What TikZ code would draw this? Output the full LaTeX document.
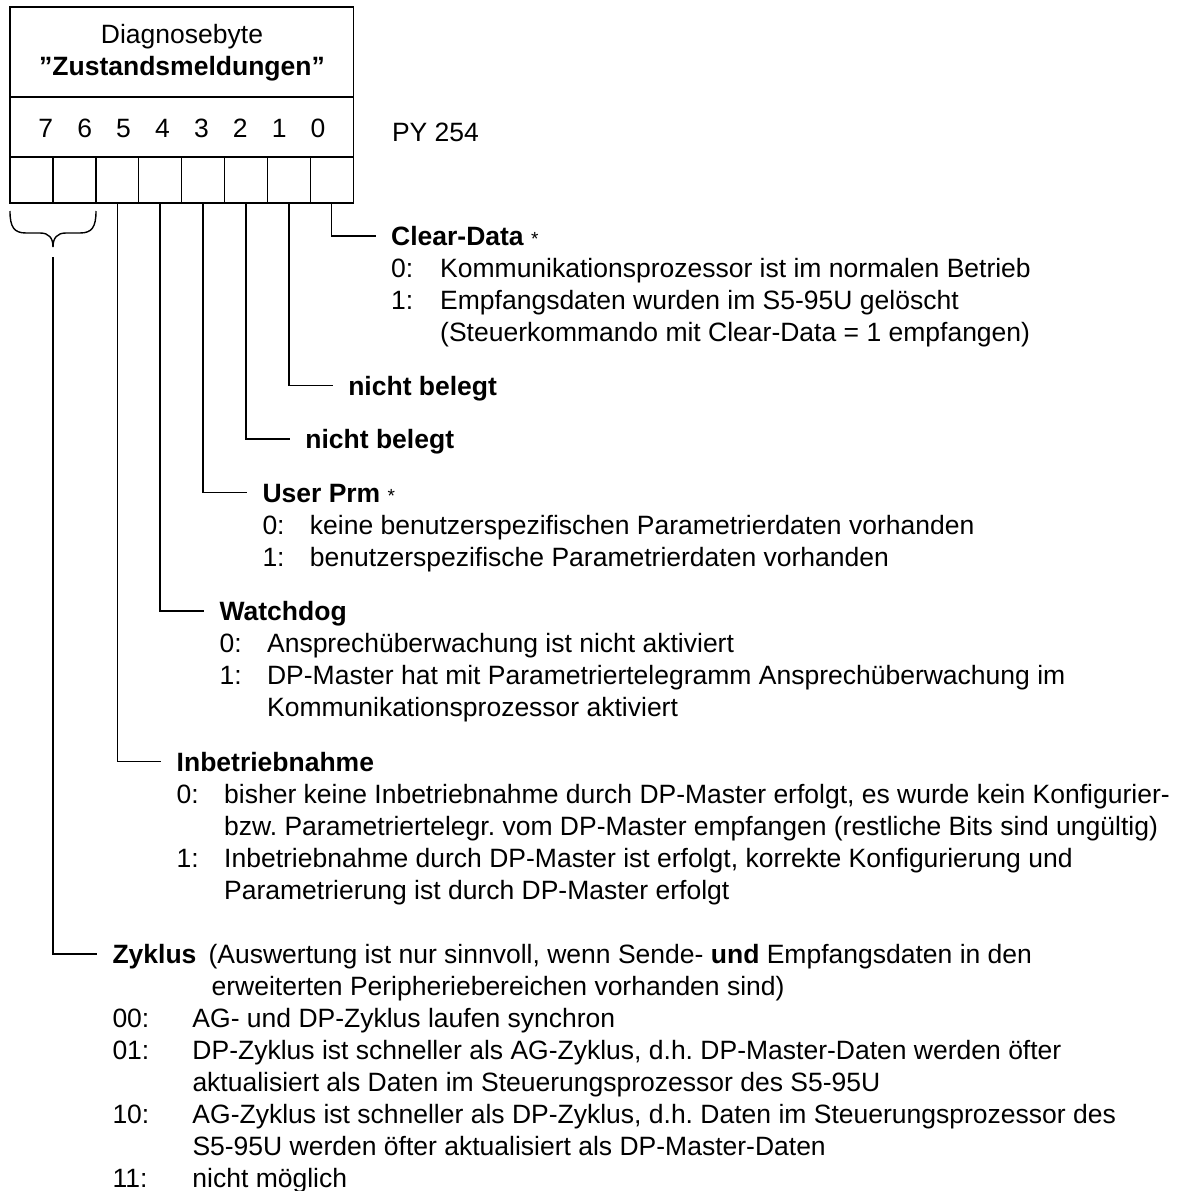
\documentclass[tikz,border=0pt]{standalone}
\usepackage{fontspec}
\setmainfont{Liberation Sans}
\frenchspacing
\newcommand\bodyfont{\fontsize{26.5pt}{32pt}\selectfont}
\newcommand\note{\mdseries\fontsize{19pt}{19pt}\selectfont*}
\begin{document}
\begin{tikzpicture}[x=1pt,y=-1pt,line width=1.4pt,
  txt/.style={inner sep=0pt,outer sep=0pt,anchor=base west,font=\bodyfont},
  head/.style={txt,font=\bodyfont\bfseries,text height=19pt,text depth=0pt},
  digit/.style={inner sep=0pt,anchor=base,font=\bodyfont},
  lead/.style={line width=1.4pt}]
\useasboundingbox (0,0) rectangle (1187,1191);

% ---- register box: title, bit numbers, bit cells
\draw (10,7) rectangle (353.2,203);
\draw (10,97) -- (353.2,97);
\draw (10,157) -- (353.2,157);
\foreach \i in {1,...,7} \draw (10+42.9*\i,157) -- (10+42.9*\i,203);

\node[digit] (title1) at (182,43) {Diagnosebyte};
\node[digit] (title2) at (182,75) {\bfseries ”Zustandsmeldungen”};
\foreach \d in {7,...,0}
  \node[digit] (d\d) at ({45.8+38.9*(7-\d)},137.5) {\d};
\node[txt] (py) at (392,141) {PY 254};

% bottom centres of the bit cells
\foreach \d in {0,...,5}
  \coordinate (b\d) at ({10+42.9*(7-\d)+21.45},203);

% brace over bits 7 and 6
\draw (10,211) .. controls (10,227) and (14,233) .. (26,233) -- (40,233)
      .. controls (49,233) and (53,238) .. (53,247);
\draw (96,211) .. controls (96,227) and (92,233) .. (80,233) -- (66,233)
      .. controls (57,233) and (53,238) .. (53,247);
\coordinate (b76) at (53,257);

% ---- bit 0
\node[head] (cd) at (391.2,245.5) {Clear-Data \note};
\node[txt] (cdtx) at (391.2,277.5) {\begin{tabular}[t]{@{}p{49pt}@{}l@{}}
0: & Kommunikationsprozessor ist im normalen Betrieb\\
1: & Empfangsdaten wurden im S5-95U gelöscht\\
   & (Steuerkommando mit Clear-Data = 1 empfangen)
\end{tabular}};
\draw[lead] (b0) |- ([xshift=-15.5pt]cd.west);

% ---- bits 1 and 2
\node[head] (nb1) at (348.3,395) {nicht belegt};
\draw[lead] (b1) |- ([xshift=-15.5pt]nb1.west);
\node[head] (nb2) at (305.4,448.5) {nicht belegt};
\draw[lead] (b2) |- ([xshift=-15.5pt]nb2.west);

% ---- bit 3
\node[head] (up) at (262.5,502) {User Prm \note};
\node[txt] (uptx) at (262.5,534) {\begin{tabular}[t]{@{}p{47.5pt}@{}l@{}}
0: & keine benutzerspezifischen Parametrierdaten vorhanden\\
1: & benutzerspezifische Parametrierdaten vorhanden
\end{tabular}};
\draw[lead] (b3) |- ([xshift=-15.5pt]up.west);

% ---- bit 4
\node[head] (wd) at (219.6,620.5) {Watchdog};
\node[txt] (wdtx) at (219.6,652.5) {\begin{tabular}[t]{@{}p{47.5pt}@{}l@{}}
0: & Ansprechüberwachung ist nicht aktiviert\\
1: & DP-Master hat mit Parametriertelegramm Ansprechüberwachung im\\
   & Kommunikationsprozessor aktiviert
\end{tabular}};
\draw[lead] (b4) |- ([xshift=-15.5pt]wd.west);

% ---- bit 5
\node[head] (ib) at (176.7,771) {Inbetriebnahme};
\node[txt] (ibtx) at (176.7,803) {\begin{tabular}[t]{@{}p{47.5pt}@{}l@{}}
0: & bisher keine Inbetriebnahme durch DP-Master erfolgt, es wurde kein Konfigurier-\\
   & bzw. Parametriertelegr. vom DP-Master empfangen (restliche Bits sind ungültig)\\
1: & Inbetriebnahme durch DP-Master ist erfolgt, korrekte Konfigurierung und\\
   & Parametrierung ist durch DP-Master erfolgt
\end{tabular}};
\draw[lead] (b5) |- ([xshift=-15.5pt]ib.west);

% ---- bits 6 and 7
\node[head] (zy) at (112.5,963.5) {Zyklus};
\node[txt] (zynote) at (208.6,963.5) {\begin{tabular}[t]{@{}l@{}}
(Auswertung ist nur sinnvoll, wenn Sende- \textbf{und} Empfangsdaten in den\\
\hspace{3pt}erweiterten Peripheriebereichen vorhanden sind)
\end{tabular}};
\node[txt] (zytx) at (112.5,1027.5) {\begin{tabular}[t]{@{}p{80pt}@{}l@{}}
00: & AG- und DP-Zyklus laufen synchron\\
01: & DP-Zyklus ist schneller als AG-Zyklus, d.h. DP-Master-Daten werden öfter\\
    & aktualisiert als Daten im Steuerungsprozessor des S5-95U\\
10: & AG-Zyklus ist schneller als DP-Zyklus, d.h. Daten im Steuerungsprozessor des\\
    & S5-95U werden öfter aktualisiert als DP-Master-Daten\\
11: & nicht möglich
\end{tabular}};
\draw[lead] (b76) |- ([xshift=-15.5pt]zy.west);
\end{tikzpicture}
\end{document}
